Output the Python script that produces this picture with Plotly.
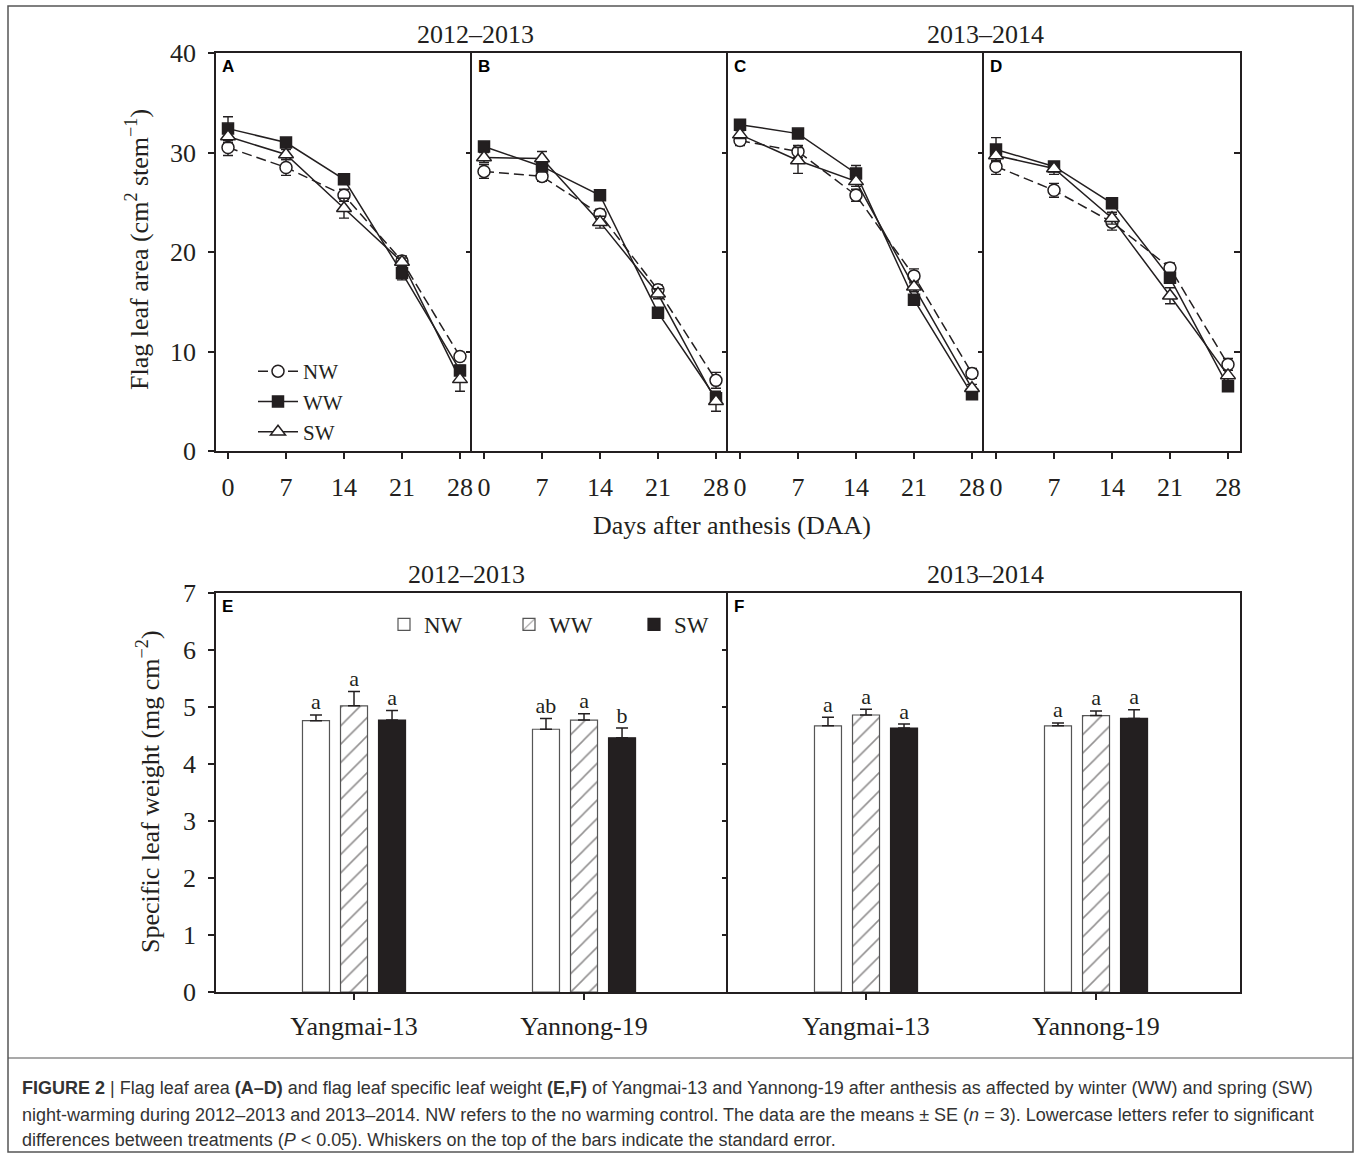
import plotly.graph_objects as go

# ---------------- data ----------------
days = [0, 7, 14, 21, 28]
treatments = ["NW", "WW", "SW"]
panels_top = ["A", "B", "C", "D"]

# Flag leaf area (cm2 stem-1)
A_NW = [30.5, 28.5, 25.7, 19.1, 9.5]
A_NW_se = [0.8, 0.8, 0.6, 0.5, 0.4]
A_WW = [32.4, 31.0, 27.3, 17.9, 8.1]
A_WW_se = [1.2, 0.4, 0.4, 0.7, 0.5]
A_SW = [31.6, 29.8, 24.4, 19.0, 7.2]
A_SW_se = [0.6, 0.5, 1.0, 0.4, 1.2]

B_NW = [28.1, 27.6, 23.8, 16.2, 7.1]
B_NW_se = [0.7, 0.5, 0.5, 0.5, 0.8]
B_WW = [30.6, 28.6, 25.7, 13.9, 5.3]
B_WW_se = [0.3, 0.4, 0.3, 0.3, 0.5]
B_SW = [29.5, 29.4, 23.0, 15.8, 5.0]
B_SW_se = [0.5, 0.7, 0.6, 0.5, 1.0]

C_NW = [31.2, 30.1, 25.7, 17.6, 7.8]
C_NW_se = [0.5, 0.6, 0.6, 0.7, 0.5]
C_WW = [32.8, 31.9, 27.9, 15.2, 5.7]
C_WW_se = [0.3, 0.4, 0.8, 0.4, 0.3]
C_SW = [31.8, 29.2, 27.1, 16.5, 6.3]
C_SW_se = [0.4, 1.3, 0.5, 0.5, 0.4]

D_NW = [28.6, 26.2, 23.0, 18.4, 8.7]
D_NW_se = [0.8, 0.7, 0.8, 0.5, 0.6]
D_WW = [30.3, 28.6, 24.9, 17.4, 6.5]
D_WW_se = [1.2, 0.4, 0.4, 0.4, 0.4]
D_SW = [29.7, 28.4, 23.4, 15.6, 7.6]
D_SW_se = [0.5, 0.6, 0.6, 0.8, 0.5]

# Specific leaf weight (mg cm-2)
cultivars = ["Yangmai-13", "Yannong-19"]
E_NW = [4.76, 4.61]
E_NW_se = [0.10, 0.19]
E_WW = [5.02, 4.77]
E_WW_se = [0.25, 0.11]
E_SW = [4.77, 4.46]
E_SW_se = [0.17, 0.17]
E_letters = {"NW": ["a", "ab"], "WW": ["a", "a"], "SW": ["a", "b"]}

F_NW = [4.67, 4.67]
F_NW_se = [0.15, 0.05]
F_WW = [4.86, 4.85]
F_WW_se = [0.10, 0.08]
F_SW = [4.63, 4.80]
F_SW_se = [0.07, 0.15]
F_letters = {"NW": ["a", "a"], "WW": ["a", "a"], "SW": ["a", "a"]}

season_titles = ["2012\u20132013", "2013\u20132014"]

# ---------------- styling ----------------
W, H = 1360, 1155
INK = "#231f20"
SERIF = "Liberation Serif, Times New Roman, serif"
SANS = "Liberation Sans, Arial, sans-serif"


def px_x(p):
    return p / W


def px_y(p):
    return 1 - p / H


def sfx(k):
    return "" if k == 1 else str(k)


line_style = {
    "NW": dict(dash="10px,5px", symbol="circle", size=12, fill="white"),
    "WW": dict(dash="solid", symbol="square", size=11, fill=INK),
    "SW": dict(dash="solid", symbol="triangle-up", size=13, fill="white"),
}

top_data = {
    "A": {"NW": (A_NW, A_NW_se), "WW": (A_WW, A_WW_se), "SW": (A_SW, A_SW_se)},
    "B": {"NW": (B_NW, B_NW_se), "WW": (B_WW, B_WW_se), "SW": (B_SW, B_SW_se)},
    "C": {"NW": (C_NW, C_NW_se), "WW": (C_WW, C_WW_se), "SW": (C_SW, C_SW_se)},
    "D": {"NW": (D_NW, D_NW_se), "WW": (D_WW, D_WW_se), "SW": (D_SW, D_SW_se)},
}
bot_data = {
    "E": {"NW": (E_NW, E_NW_se), "WW": (E_WW, E_WW_se), "SW": (E_SW, E_SW_se)},
    "F": {"NW": (F_NW, F_NW_se), "WW": (F_WW, F_WW_se), "SW": (F_SW, F_SW_se)},
}
bot_letters = {"E": E_letters, "F": F_letters}

fig = go.Figure()

# ---------- top panels: line charts ----------
for i, pan in enumerate(panels_top):
    ax = i + 1
    for trt in treatments:
        vals, se = top_data[pan][trt]
        st = line_style[trt]
        fig.add_trace(go.Scatter(
            x=days, y=vals, name=trt, mode="lines+markers",
            xaxis=f"x{sfx(ax)}", yaxis=f"y{sfx(ax)}",
            offsetgroup="lines", alignmentgroup="lines",
            line=dict(color=INK, width=1.5, dash=st["dash"]),
            marker=dict(symbol=st["symbol"], size=st["size"], color=st["fill"],
                        line=dict(color=INK, width=1.5)),
            error_y=dict(type="data", array=se, color=INK, thickness=1.4, width=5),
            showlegend=(pan == "A"), legend="legend",
            hoverinfo="x+y+name",
        ))

# ---------- bottom panels: bar charts ----------
bar_style = {
    "NW": dict(color="white", line="#555555", pattern=None),
    "WW": dict(color="white", line="#555555",
               pattern=dict(shape="/", fgcolor=INK, bgcolor="white", size=13, solidity=0.12)),
    "SW": dict(color=INK, line=INK, pattern=None),
}
for j, pan in enumerate(["E", "F"]):
    ax = 5 + j
    for trt in treatments:
        vals, se = bot_data[pan][trt]
        st = bar_style[trt]
        marker = dict(color=st["color"], line=dict(color=st["line"], width=1.2))
        if st["pattern"] is not None:
            marker["pattern"] = st["pattern"]
        fig.add_trace(go.Bar(
            x=cultivars, y=vals, name=trt, offsetgroup=trt,
            xaxis=f"x{ax}", yaxis=f"y{ax}", marker=marker,
            error_y=dict(type="data", symmetric=False, array=se,
                         arrayminus=[0] * len(se), color=INK, thickness=1.5, width=6),
            showlegend=(pan == "E"), legend="legend2",
        ))
    for trt in treatments:
        vals, se = bot_data[pan][trt]
        fig.add_trace(go.Scatter(
            x=cultivars, y=[v + s for v, s in zip(vals, se)],
            text=bot_letters[pan][trt], mode="text", textposition="top center",
            textfont=dict(family=SERIF, size=22, color=INK),
            offsetgroup=trt, xaxis=f"x{ax}", yaxis=f"y{ax}",
            showlegend=False, hoverinfo="skip",
        ))

# ---------- axes ----------
top_x_dom = [(216, 472), (472, 728), (728, 984), (984, 1240)]
top_y_dom = [px_y(451), px_y(53)]
bot_x_dom = [(216, 728), (728, 1240)]
bot_y_dom = [px_y(992), px_y(593)]

base_line = dict(showline=True, linecolor=INK, linewidth=1.5,
                 showgrid=False, zeroline=False)
tickfont = dict(family=SERIF, size=26, color=INK)

layout_axes = {}
for i in range(4):
    ax = i + 1
    layout_axes[f"xaxis{sfx(ax)}"] = dict(
        domain=[px_x(top_x_dom[i][0]), px_x(top_x_dom[i][1])],
        anchor=f"y{sfx(ax)}", range=[-1.45, 29.45], mirror=True,
        tickmode="array", tickvals=days, ticks="outside", ticklen=6, tickwidth=1.5,
        tickcolor=INK, tickfont=tickfont, ticklabelstandoff=6, **base_line)
    layout_axes[f"yaxis{sfx(ax)}"] = dict(
        domain=top_y_dom, anchor=f"x{sfx(ax)}", range=[0, 40], mirror=(ax == 4),
        tickvals=[0, 10, 20, 30, 40],
        ticks="outside" if ax == 1 else "", ticklen=6, tickwidth=1.5, tickcolor=INK,
        showticklabels=(ax == 1), tickfont=tickfont, ticklabelstandoff=7, **base_line)
    # right-side inward ticks
    layout_axes[f"yaxis{6 + ax}"] = dict(
        overlaying=f"y{sfx(ax)}", anchor=f"x{sfx(ax)}", side="right", range=[0, 40],
        tickvals=[10, 20, 30], ticks="inside", ticklen=6, tickwidth=1.5, tickcolor=INK,
        showticklabels=False, showline=False, showgrid=False, zeroline=False)

for j in range(2):
    ax = 5 + j
    layout_axes[f"xaxis{ax}"] = dict(
        domain=[px_x(bot_x_dom[j][0]), px_x(bot_x_dom[j][1])],
        anchor=f"y{ax}", type="category", range=[-0.6, 1.626], mirror=True,
        ticks="outside", ticklen=6, tickwidth=1.5, tickcolor=INK,
        tickfont=tickfont, ticklabelstandoff=4, **base_line)
    layout_axes[f"yaxis{ax}"] = dict(
        domain=bot_y_dom, anchor=f"x{ax}", range=[0, 7], dtick=1, mirror=(ax == 6),
        ticks="outside" if ax == 5 else "", ticklen=6, tickwidth=1.5, tickcolor=INK,
        showticklabels=(ax == 5), tickfont=tickfont, ticklabelstandoff=7, **base_line)

layout_axes["yaxis11"] = dict(
    overlaying="y5", anchor="x5", side="right", range=[0, 7],
    tickvals=[1, 2, 3, 4, 5, 6], ticks="inside", ticklen=6, tickwidth=1.5, tickcolor=INK,
    showticklabels=False, showline=False, showgrid=False, zeroline=False)

# empty traces so the overlay axes are drawn
for k, base in zip(range(7, 12), ["x", "x2", "x3", "x4", "x5"]):
    fig.add_trace(go.Scatter(x=[], y=[], xaxis=base, yaxis=f"y{k}",
                             showlegend=False, hoverinfo="skip"))

# ---------- annotations ----------
ann = []
letters_all = ["A", "B", "C", "D", "E", "F"]
for k, lab in enumerate(letters_all):
    ann.append(dict(text=f"<b>{lab}</b>", xref=f"x{sfx(k + 1)} domain", yref=f"y{sfx(k + 1)} domain",
                    x=0.0, y=1.0, xanchor="left", yanchor="top", xshift=4, yshift=-2,
                    showarrow=False, font=dict(family=SANS, size=17, color="black")))

title_font = dict(family=SERIF, size=26, color=INK)


def centered(text, xp, yp, **kw):
    return dict(text=text, x=px_x(xp), y=px_y(yp), xref="paper", yref="paper",
                xanchor="center", yanchor="middle", showarrow=False, font=title_font, **kw)


ann += [
    centered(season_titles[0], 475, 35),
    centered(season_titles[1], 985, 35),
    centered(season_titles[0], 466, 574),
    centered(season_titles[1], 985, 574),
    centered("Days after anthesis (DAA)", 732, 525),
    centered("Flag leaf area (cm<sup>2</sup> stem<sup>\u22121</sup>)", 137, 250, textangle=-90),
    centered("Specific leaf weight (mg cm<sup>\u22122</sup>)", 148, 792, textangle=-90),
]

cap_font = dict(family="Liberation Sans, Arial, sans-serif", size=18, color="#333333")
caption_lines = [
    "<b>FIGURE 2</b> | Flag leaf area <b>(A\u2013D)</b> and flag leaf specific leaf weight <b>(E,F)</b> "
    "of Yangmai-13 and Yannong-19 after anthesis as affected by winter (WW) and spring (SW)",
    "night-warming during 2012\u20132013 and 2013\u20132014. NW refers to the no warming control. "
    "The data are the means \u00b1 SE (<i>n</i> = 3). Lowercase letters refer to significant",
    "differences between treatments (<i>P</i> &lt; 0.05). Whiskers on the top of the bars indicate the standard error.",
]
for line, yy in zip(caption_lines, [1088, 1115, 1140]):
    ann.append(dict(text=line, x=px_x(20), y=px_y(yy), xref="paper", yref="paper",
                    xanchor="left", yanchor="middle", align="left", showarrow=False,
                    font=cap_font))

shapes = [
    dict(type="rect", xref="paper", yref="paper", x0=px_x(8), x1=px_x(1353),
         y0=px_y(1152), y1=px_y(6), line=dict(color="#555555", width=1.5)),
    dict(type="line", xref="paper", yref="paper", x0=px_x(8), x1=px_x(1353),
         y0=px_y(1058), y1=px_y(1058), line=dict(color="#555555", width=1.2)),
]

fig.update_layout(
    width=W, height=H, margin=dict(l=0, r=0, t=0, b=0, autoexpand=False),
    paper_bgcolor="white", plot_bgcolor="white",
    barmode="group", bargap=0.504, bargroupgap=0.29,
    scattermode="group", scattergap=0.504,
    annotations=ann, shapes=shapes,
    legend=dict(x=px_x(253), y=px_y(351), xanchor="left", yanchor="top",
                bgcolor="rgba(0,0,0,0)", tracegroupgap=0, itemwidth=40,
                font=dict(family=SERIF, size=21, color=INK)),
    legend2=dict(x=px_x(384), y=px_y(603), xanchor="left", yanchor="top",
                 orientation="h", bgcolor="rgba(0,0,0,0)",
                 entrywidth=80, entrywidthmode="pixels",
                 font=dict(family=SERIF, size=23, color=INK)),
    **layout_axes,
)

fig.write_html("out.html")
